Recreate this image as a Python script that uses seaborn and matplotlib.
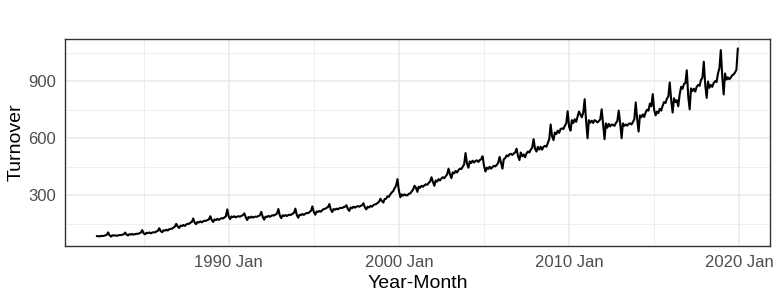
import matplotlib
matplotlib.use("Agg")
import matplotlib.pyplot as plt
import matplotlib.ticker as mticker
import pandas as pd
import seaborn as sns

# monthly turnover, first value is 1982 Apr, last is 2019 Dec
start_month = "1982-04-01"

turnover_1980s = [
    86, 85, 84, 87, 86, 87, 90, 92, 105,                          # 1982 Apr-Dec
    89, 83, 90, 88, 90, 87, 89, 91, 91, 93, 95, 104,              # 1983
    93, 89, 96, 93, 97, 93, 96, 98, 97, 101, 104, 117,            # 1984
    100, 95, 103, 101, 105, 100, 104, 106, 105, 110, 113, 127,    # 1985
    112, 106, 116, 114, 119, 115, 121, 124, 124, 130, 135, 150,   # 1986
    136, 128, 140, 138, 144, 139, 146, 150, 150, 156, 160, 178,   # 1987
    156, 148, 160, 157, 163, 158, 163, 166, 166, 170, 173, 190,   # 1988
    170, 160, 173, 170, 176, 171, 176, 180, 178, 184, 190, 226,   # 1989
]
turnover_1990s = [
    188, 175, 189, 185, 190, 184, 188, 190, 188, 192, 196, 205,   # 1990
    185, 170, 186, 182, 188, 183, 186, 188, 187, 191, 195, 213,   # 1991
    186, 172, 188, 186, 192, 187, 192, 195, 194, 199, 204, 228,   # 1992
    194, 180, 195, 191, 196, 191, 196, 198, 197, 203, 208, 230,   # 1993
    196, 182, 198, 196, 202, 197, 203, 207, 206, 212, 218, 242,   # 1994
    212, 198, 215, 212, 218, 214, 222, 228, 229, 234, 238, 254,   # 1995
    224, 212, 228, 224, 230, 226, 232, 234, 233, 238, 240, 248,   # 1996
    228, 218, 236, 232, 240, 235, 240, 243, 240, 244, 248, 258,   # 1997
    236, 226, 240, 236, 244, 240, 248, 252, 254, 260, 266, 282,   # 1998
    270, 262, 280, 282, 295, 292, 305, 315, 322, 338, 350, 385,   # 1999
]
turnover_2000s = [
    325, 290, 305, 298, 305, 300, 300, 308, 310, 320, 330, 350,   # 2000
    340, 318, 345, 340, 350, 345, 352, 358, 355, 365, 372, 395,   # 2001
    370, 350, 378, 372, 385, 378, 388, 395, 390, 400, 410, 440,   # 2002
    410, 390, 420, 415, 428, 420, 432, 440, 438, 450, 462, 522,   # 2003
    468, 445, 478, 470, 482, 472, 480, 484, 475, 485, 490, 505,   # 2004
    455, 425, 445, 438, 450, 440, 448, 455, 452, 460, 470, 502,   # 2005
    470, 440, 490, 495, 510, 505, 515, 518, 512, 520, 525, 545,   # 2006
    505, 485, 525, 505, 515, 500, 520, 530, 525, 540, 550, 595,   # 2007
    545, 530, 555, 540, 555, 540, 555, 560, 555, 575, 595, 672,   # 2008
    610, 590, 630, 622, 640, 628, 648, 652, 648, 665, 678, 742,   # 2009
]
turnover_2010s = [
    660, 640, 695, 680, 700, 686, 712, 740, 725, 710, 735, 805,   # 2010
    690, 600, 695, 682, 692, 680, 695, 690, 683, 690, 700, 752,   # 2011
    675, 595, 678, 655, 675, 662, 672, 670, 665, 680, 690, 745,   # 2012
    680, 600, 678, 665, 672, 666, 675, 678, 672, 685, 700, 788,   # 2013
    700, 635, 720, 710, 725, 712, 735, 750, 745, 782, 768, 832,   # 2014
    748, 720, 740, 732, 755, 745, 770, 790, 785, 808, 820, 893,   # 2015
    800, 735, 810, 790, 800, 768, 830, 870, 860, 885, 890, 957,   # 2016
    820, 752, 862, 848, 860, 845, 870, 880, 875, 905, 918, 1002,  # 2017
    880, 812, 898, 865, 880, 870, 890, 900, 895, 940, 968, 1063,  # 2018
    925, 830, 940, 908, 920, 910, 918, 930, 935, 945, 960, 1072,  # 2019
]

x_tick_years = [1990, 2000, 2010, 2020]
x_minor_years = [1985, 1995, 2005, 2015]
y_ticks = [300, 600, 900]
y_minor = [150, 450, 750, 1050]

turnover = turnover_1980s + turnover_1990s + turnover_2000s + turnover_2010s
df = pd.DataFrame({
    "month": pd.date_range(start_month, periods=len(turnover), freq="MS"),
    "turnover": turnover,
})

sns.set_style("white")
plt.rcParams["font.family"] = ["Liberation Sans", "DejaVu Sans"]

fig, ax = plt.subplots(figsize=(7.8, 3), dpi=100)
fig.subplots_adjust(left=0.083, right=0.987, top=0.87, bottom=0.18)

ax.set_axisbelow(True)
sns.lineplot(data=df, x="month", y="turnover", color="black", linewidth=1.5, ax=ax)

# ggplot-ish expansion of the limits
span = df["month"].iloc[-1] - df["month"].iloc[0]
ax.set_xlim(df["month"].iloc[0] - span * 0.05, df["month"].iloc[-1] + span * 0.05)
lo, hi = min(turnover), max(turnover)
ax.set_ylim(lo - (hi - lo) * 0.05, hi + (hi - lo) * 0.05)

ax.set_xticks([pd.Timestamp(f"{y}-01-01") for y in x_tick_years])
ax.set_xticklabels([f"{y} Jan" for y in x_tick_years])
ax.set_xticks([pd.Timestamp(f"{y}-01-01") for y in x_minor_years], minor=True)
ax.set_yticks(y_ticks)
ax.yaxis.set_minor_locator(mticker.FixedLocator(y_minor))

ax.grid(which="major", color="#EBEBEB", linewidth=1.2)
ax.grid(which="minor", color="#EBEBEB", linewidth=0.6)
for s in ax.spines.values():
    s.set_color("#333333")
    s.set_linewidth(1.0)

ax.tick_params(which="major", length=4, width=1.0, color="#333333",
               labelcolor="#4D4D4D", labelsize=12, pad=2.5)
ax.tick_params(which="minor", length=0)

ax.set_xlabel("Year-Month", fontsize=14, color="black", labelpad=3.5)
ax.set_ylabel("Turnover", fontsize=14, color="black", labelpad=2)

fig.savefig("out.png", dpi=100)
